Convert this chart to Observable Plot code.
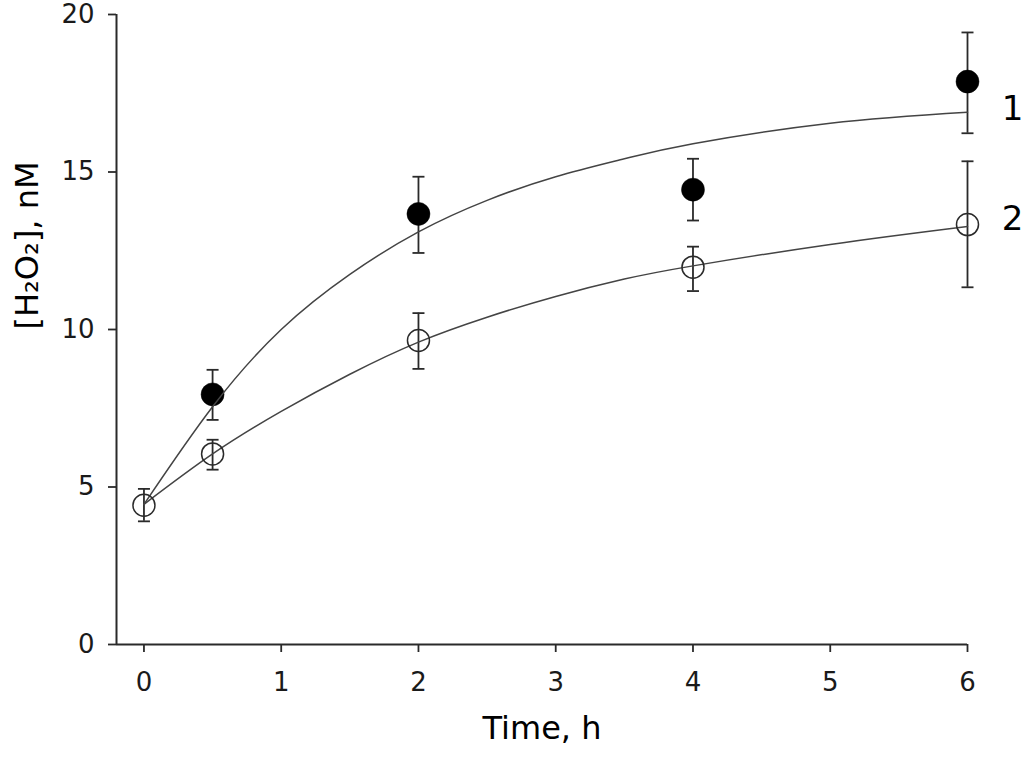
<!DOCTYPE html>
<html>
<head>
<meta charset="utf-8">
<script src="https://cdn.jsdelivr.net/npm/d3@7"></script>
<script src="https://cdn.jsdelivr.net/npm/@observablehq/plot@0.6"></script>
<style>
  html, body { margin: 0; padding: 0; background: #fff; }
</style>
</head>
<body>
<div id="chart"></div>
<script>
// ---- data ----
const xTicks = [0, 1, 2, 3, 4, 5, 6];
const yTicks = [0, 5, 10, 15, 20];
const xDomain = [-0.2, 6];
const yDomain = [0, 20];

// series 1 (filled circles)
const t1 = [0.5, 2, 4, 6];
const y1 = [7.94, 13.67, 14.44, 17.87];
const lo1 = [7.13, 12.43, 13.46, 16.23];
const hi1 = [8.72, 14.85, 15.42, 19.43];

// series 2 (open circles)
const t2 = [0, 0.5, 2, 4, 6];
const y2 = [4.42, 6.05, 9.65, 11.98, 13.33];
const lo2 = [3.91, 5.55, 8.75, 11.22, 11.34];
const hi2 = [4.94, 6.50, 10.52, 12.63, 15.34];

// fitted curves
const curveT = [0, 0.5, 1, 1.5, 2, 2.5, 3, 3.5, 4, 5, 6];
const curve1 = [4.45, 7.55, 10.0, 11.75, 13.1, 14.1, 14.85, 15.42, 15.9, 16.55, 16.9];
const curve2 = [4.45, 6.05, 7.4, 8.58, 9.6, 10.39, 11.05, 11.6, 12.02, 12.7, 13.27];

// series labels at the right
const seriesLabels = ["1", "2"];
const seriesLabelT = [6, 6];
const seriesLabelY = [17.0, 13.5];

const xLabel = "Time, h";
const yLabel = "[H₂O₂], nM";

// ---- build tables ----
const pts1 = t1.map((t, i) => ({t, y: y1[i], lo: lo1[i], hi: hi1[i]}));
const pts2 = t2.map((t, i) => ({t, y: y2[i], lo: lo2[i], hi: hi2[i]}));
const line1 = curveT.map((t, i) => ({t, y: curve1[i]}));
const line2 = curveT.map((t, i) => ({t, y: curve2[i]}));
const labels = seriesLabels.map((s, i) => ({s, t: seriesLabelT[i], y: seriesLabelY[i]}));

// horizontal cap symbol for error bars
const cap = {
  draw(ctx, size) {
    const w = Math.sqrt(size / Math.PI);
    ctx.moveTo(-w, 0);
    ctx.lineTo(w, 0);
  }
};

const ink = "#2a2a2a";
const font = "DejaVu Sans, Verdana, sans-serif";

function errMarks(data) {
  return [
    Plot.ruleX(data, {x: "t", y1: "lo", y2: "hi", stroke: ink, strokeWidth: 1.8}),
    Plot.dot(data, {x: "t", y: "lo", symbol: cap, r: 6, stroke: ink, strokeWidth: 1.8, fill: "none"}),
    Plot.dot(data, {x: "t", y: "hi", symbol: cap, r: 6, stroke: ink, strokeWidth: 1.8, fill: "none"})
  ];
}

const chart = Plot.plot({
  width: 1024,
  height: 757,
  marginLeft: 116,
  marginRight: 57,
  marginTop: 14,
  marginBottom: 113,
  style: {fontFamily: font, fontSize: "26px", color: "#1a1a1a", background: "#fff"},
  x: {domain: xDomain, ticks: xTicks, label: null},
  y: {domain: yDomain, ticks: yTicks, label: null},
  marks: [
    Plot.axisX({ticks: xTicks, tickSize: 8, tickPadding: 20, tickFormat: d => String(d), stroke: ink, strokeWidth: 1.8, label: null}),
    Plot.axisY({ticks: yTicks, tickSize: 8, tickPadding: 14, tickFormat: d => String(d), stroke: ink, strokeWidth: 1.8, label: null}),
    Plot.ruleY([yDomain[0]], {stroke: ink, strokeWidth: 2}),
    Plot.ruleX([xDomain[0]], {stroke: ink, strokeWidth: 2}),
    ...errMarks(pts1),
    ...errMarks(pts2),
    Plot.dot(pts1, {x: "t", y: "y", r: 11.5, fill: "#000", stroke: "#000", strokeWidth: 0.5}),
    Plot.line(line1, {x: "t", y: "y", curve: "natural", stroke: "#444", strokeWidth: 1.5}),
    Plot.line(line2, {x: "t", y: "y", curve: "natural", stroke: "#444", strokeWidth: 1.5}),
    Plot.dot(pts2, {x: "t", y: "y", r: 11, fill: "none", stroke: ink, strokeWidth: 1.5}),
    Plot.text(labels, {x: "t", y: "y", text: "s", dx: 45, fontSize: 34, fill: "#000", fontFamily: font}),
    Plot.text([xLabel], {frameAnchor: "bottom", text: d => d, dy: 94, fontSize: 32, fill: "#000", fontFamily: font}),
    Plot.text([yLabel], {frameAnchor: "left", text: d => d, dx: -89, rotate: -90, fontSize: 32, fill: "#000", fontFamily: font})
  ]
});

document.getElementById("chart").appendChild(chart);
</script>
</body>
</html>
